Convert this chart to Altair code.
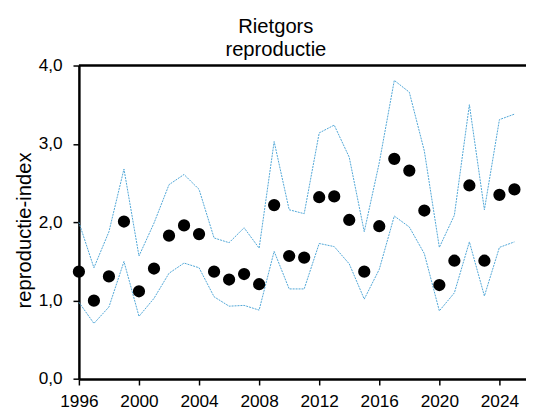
import altair as alt
import pandas as pd

years = list(range(1996, 2026))
index_values = [1.37, 1.00, 1.31, 2.01, 1.12, 1.41, 1.83, 1.96, 1.85, 1.37,
                1.27, 1.34, 1.21, 2.22, 1.57, 1.55, 2.32, 2.33, 2.03, 1.37,
                1.95, 2.81, 2.66, 2.15, 1.20, 1.51, 2.47, 1.51, 2.35, 2.42]
upper_values = [2.00, 1.42, 1.88, 2.68, 1.57, 1.99, 2.48, 2.61, 2.42, 1.80,
                1.74, 1.93, 1.67, 3.03, 2.16, 2.11, 3.14, 3.24, 2.83, 1.88,
                2.76, 3.81, 3.66, 2.91, 1.68, 2.09, 3.50, 2.16, 3.31, 3.38]
lower_values = [0.98, 0.71, 0.92, 1.50, 0.80, 1.03, 1.35, 1.48, 1.42, 1.05,
                0.93, 0.94, 0.88, 1.63, 1.15, 1.15, 1.73, 1.69, 1.47, 1.02,
                1.40, 2.08, 1.94, 1.60, 0.87, 1.10, 1.75, 1.06, 1.68, 1.75]
y_ticks = [0, 1, 2, 3, 4]

FONT = "Liberation Sans"

pts = pd.DataFrame({"jaar": years, "index": index_values})
band = pd.DataFrame({
    "jaar": years * 2,
    "waarde": upper_values + lower_values,
    "grens": ["boven"] * len(years) + ["onder"] * len(years),
})

x_scale = alt.Scale(domain=[1996, 2025.77], nice=False, zero=False)
y_scale = alt.Scale(domain=[0, 4], nice=False)

x_axis = alt.Axis(
    values=years,
    labelExpr="(datum.value - 1996) % 4 == 0 ? toString(datum.value) : ''",
    title=None, grid=False, labelFlush=False, labelOverlap=False,
    labelFont=FONT, labelFontSize=17.5, labelColor="black", labelPadding=8,
    domainColor="black", domainWidth=2.5, tickColor="black", tickWidth=1.5, tickSize=6,
)
y_axis = alt.Axis(
    values=y_ticks,
    labelExpr="replace(format(datum.value, '.1f'), '.', ',')",
    title="reproductie-index", grid=False,
    labelFont=FONT, labelFontSize=17.5, labelColor="black", labelPadding=11,
    titleFont=FONT, titleFontSize=20.5, titleFontWeight="normal", titleColor="black",
    titleAngle=270, titleX=-49, titleY=167, titleAlign="center", titleBaseline="alphabetic",
    domainColor="black", domainWidth=2.5, tickColor="black", tickWidth=1.5, tickSize=6,
)

lines = alt.Chart(band).mark_line(
    color="#4ea6d6", strokeWidth=1, strokeDash=[2, 1]
).encode(
    x=alt.X("jaar:Q", scale=x_scale, axis=x_axis),
    y=alt.Y("waarde:Q", scale=y_scale, axis=y_axis),
    detail="grens:N",
)

dots = alt.Chart(pts).mark_circle(color="black", opacity=1, size=154).encode(
    x=alt.X("jaar:Q", scale=x_scale),
    y=alt.Y("index:Q", scale=y_scale),
)

top_line = alt.Chart(pd.DataFrame({"y": [4]})).mark_rule(
    color="black", strokeWidth=2.5
).encode(y=alt.Y("y:Q", scale=y_scale))

chart = alt.layer(lines, dots, top_line).properties(
    width=454, height=318.4,
    title=alt.TitleParams(
        text=["Rietgors", "reproductie"], font=FONT, fontSize=20.5,
        fontWeight="normal", color="black", lineHeight=24, anchor="middle",
        dx=-27, dy=8,
    ),
    autosize=alt.AutoSizeParams(type="none"),
    padding={"left": 72, "top": 55.3, "right": 0, "bottom": 30},
).configure_view(stroke=None)

chart.save("out.html", embed_options={"renderer": "svg", "actions": False})
